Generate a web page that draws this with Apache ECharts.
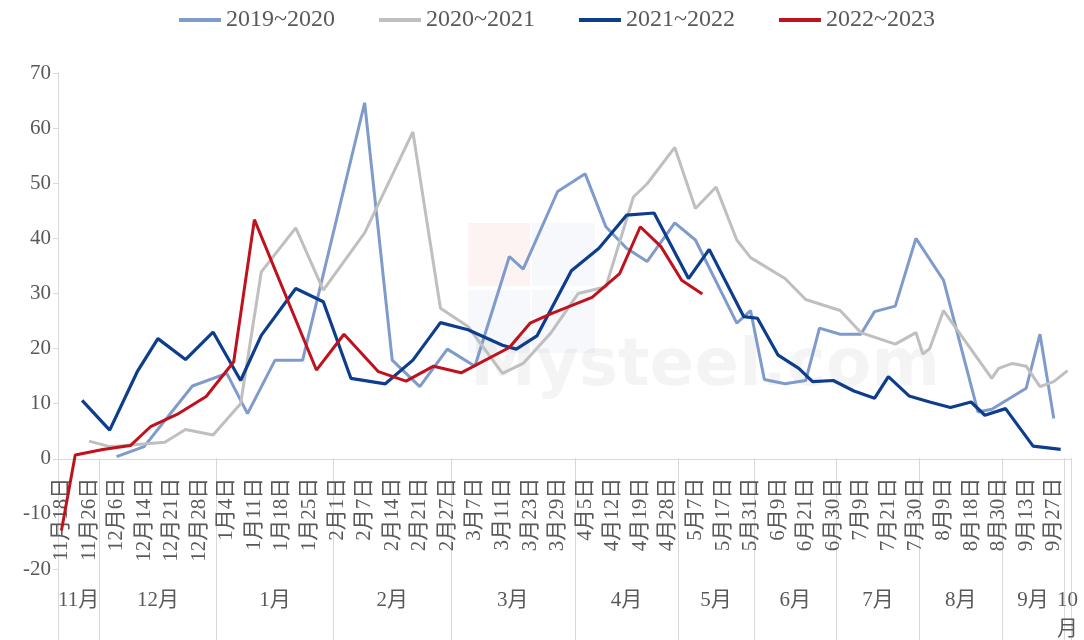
<!DOCTYPE html>
<html><head><meta charset="utf-8">
<script src="https://cdn.jsdelivr.net/npm/echarts@6/dist/echarts.min.js"></script>
<style>html,body{margin:0;padding:0;background:#fff}#c{width:1084px;height:640px}</style>
</head><body><div id="c"></div>
<script>
// ---- categories (dates; every 4th one is labelled) ----
const dates = [
 '11月18日','11月20日','11月22日','11月24日','11月26日','11月29日',
 '12月1日','12月3日','12月6日','12月8日','12月10日','12月12日','12月14日','12月16日','12月17日','12月19日','12月21日','12月23日','12月24日','12月26日','12月28日','12月30日','12月31日',
 '1月2日','1月4日','1月5日','1月7日','1月9日','1月11日','1月13日','1月14日','1月16日','1月18日','1月20日','1月21日','1月23日','1月25日','1月27日','1月28日','1月30日',
 '2月1日','2月3日','2月4日','2月5日','2月7日','2月9日','2月10日','2月12日','2月14日','2月16日','2月17日','2月19日','2月21日','2月23日','2月24日','2月25日','2月27日',
 '3月1日','3月3日','3月4日','3月7日','3月8日','3月9日','3月10日','3月11日','3月14日','3月17日','3月18日','3月23日','3月24日','3月25日','3月26日','3月29日','3月30日','3月31日',
 '4月1日','4月5日','4月6日','4月8日','4月9日','4月12日','4月14日','4月15日','4月16日','4月19日','4月21日','4月22日','4月23日','4月28日','4月29日',
 '5月1日','5月6日','5月7日','5月10日','5月12日','5月13日','5月17日','5月20日','5月21日','5月27日','5月31日',
 '6月2日','6月3日','6月7日','6月9日','6月10日','6月16日','6月17日','6月21日','6月23日','6月24日','6月28日','6月30日',
 '7月1日','7月7日','7月8日','7月9日','7月14日','7月15日','7月16日','7月21日','7月22日','7月23日','7月28日','7月30日',
 '8月4日','8月5日','8月6日','8月9日','8月11日','8月12日','8月13日','8月18日','8月19日','8月20日','8月25日','8月30日',
 '9月1日','9月2日','9月8日','9月13日','9月15日','9月16日','9月22日','9月27日','9月29日',
 '10月9日'
];
// ---- month groups (second level of the category axis) ----
const months = ['11月','12月','1月','2月','3月','4月','5月','6月','7月','8月','9月','10月'];
const monthCounts = [6,17,17,17,18,15,11,12,12,12,9,1];

// ---- series ----
const seriesNames = ['2019~2020','2020~2021','2021~2022','2022~2023'];

const d2019 = ['12月6日','12月14日','12月26日','1月4日','1月9日','1月16日','1月23日','2月7日','2月14日','2月21日','2月27日','3月7日','3月14日','3月18日','3月29日','4月5日','4月9日','4月15日','4月21日','4月29日','5月7日','5月21日','5月31日','6月3日','6月10日','6月21日','6月24日','7月1日','7月9日','7月15日','7月22日','7月30日','8月9日','8月19日','8月25日','9月13日','9月16日','9月27日'];
const v2019 = [0.4,2.2,13.2,15.5,8.2,17.9,17.9,64.6,17.9,13.1,19.9,16.8,36.7,34.4,48.5,51.7,42.1,38.2,35.8,42.8,39.7,24.6,26.9,14.4,13.6,14.2,23.7,22.6,22.6,26.7,27.7,40.0,32.4,8.5,9.0,12.8,22.6,7.3];

const d2020 = ['11月26日','12月3日','12月19日','12月24日','12月31日','1月7日','1月13日','1月21日','1月28日','2月7日','2月19日','2月25日','3月4日','3月11日','3月18日','3月26日','4月1日','4月9日','4月16日','4月21日','4月29日','5月7日','5月13日','5月21日','5月31日','6月10日','6月21日','7月1日','7月9日','7月22日','7月30日','8月4日','8月5日','8月9日','8月25日','8月30日','9月2日','9月13日','9月16日','9月27日','10月9日'];
const v2020 = [3.2,2.2,3.0,5.3,4.3,10.0,33.9,41.9,30.6,41.0,59.3,27.3,24.0,15.5,17.3,22.8,30.0,31.2,47.5,49.9,56.5,45.4,49.3,39.7,36.5,32.7,28.9,26.9,22.9,20.8,22.9,19.0,20.0,26.9,14.6,16.4,17.3,16.8,13.1,14.0,16.0];

const d2021 = ['11月24日','12月3日','12月12日','12月17日','12月24日','12月31日','1月7日','1月13日','1月21日','1月28日','2月4日','2月12日','2月19日','2月25日','3月4日','3月11日','3月17日','3月24日','3月31日','4月8日','4月15日','4月22日','5月6日','5月12日','5月27日','6月2日','6月9日','6月17日','6月23日','6月30日','7月8日','7月15日','7月21日','7月28日','8月5日','8月11日','8月18日','8月20日','9月1日','9月15日','9月29日'];
const v2021 = [10.6,5.2,15.8,21.8,18.0,23.0,14.2,22.4,30.9,28.5,14.6,13.6,17.9,24.7,23.4,20.6,19.9,22.3,34.1,38.2,44.2,44.6,32.7,38.0,25.8,25.5,18.8,16.4,14.0,14.2,12.3,11.0,14.9,11.4,10.3,9.3,10.3,7.9,9.1,2.3,1.7];

const d2022 = ['11月18日','11月22日','12月1日','12月10日','12月16日','12月23日','12月30日','1月5日','1月11日','1月27日','2月3日','2月10日','2月17日','2月24日','3月3日','3月14日','3月23日','3月26日','4月6日','4月14日','4月19日','4月23日','5月1日','5月10日'];
const v2022 = [-13,0.7,1.7,2.4,5.9,8.2,11.3,17.6,43.4,16.1,22.6,15.8,14.1,16.8,15.6,20.2,24.6,26.3,29.3,33.6,42.1,38.5,32.4,29.9];

const yTicks = {min:-20, max:70, interval:10};

// ---- build ----
const colors = ['#7f9bcb','#bfbfbf','#0d3d8c','#c0121d'];
const serif = "'Liberation Serif','Noto Sans CJK SC',serif";
const pairs = (d, v) => d.map((x, i) => [x, v[i]]);
const bounds = [0];
monthCounts.forEach(c => bounds.push(bounds[bounds.length - 1] + c));
const centers = monthCounts.map((c, i) => bounds[i] + c / 2);
const centerName = {};
centers.forEach((c, i) => { centerName[c.toFixed(2)] = monthCounts[i] < 2 ? months[i].replace('月', '\n月') : months[i]; });

const gridTop = 73, gridBottom = 71, H = 640;
const plotH = H - gridTop - gridBottom;
// distance from grid bottom up to the zero line (date axis sits on y = 0)
const zeroOffset = -plotH * (0 - yTicks.min) / (yTicks.max - yTicks.min);

const chart = echarts.init(document.getElementById('c'), null, {renderer: 'canvas'});
chart.setOption({
  animation: false,
  backgroundColor: '#fff',
  color: colors,
  legend: {
    top: 3, left: 174,
    icon: 'rect',
    itemWidth: 42, itemHeight: 4, itemGap: 44,
    textStyle: {fontFamily: serif, fontSize: 24, color: '#595959'},
    data: seriesNames
  },
  graphic: {elements: [
    {type: 'rect', z: 0, shape: {x: 468, y: 223, width: 62, height: 63}, style: {fill: 'rgba(225,80,80,0.07)'}},
    {type: 'rect', z: 0, shape: {x: 532, y: 223, width: 63, height: 63}, style: {fill: 'rgba(90,110,190,0.05)'}},
    {type: 'rect', z: 0, shape: {x: 468, y: 290, width: 62, height: 63}, style: {fill: 'rgba(90,110,190,0.05)'}},
    {type: 'rect', z: 0, shape: {x: 532, y: 290, width: 63, height: 63}, style: {fill: 'rgba(90,110,190,0.05)'}},
    {type: 'text', z: 0, left: 470, top: 335, style: {text: 'Mysteel.com', font: 'bold 66px "DejaVu Sans", sans-serif', fill: 'rgba(0,0,0,0.045)'}}
  ]},
  grid: {left: 58, right: 13, top: gridTop, bottom: gridBottom, containLabel: false, outerBoundsMode: 'none'},
  xAxis: [
    {
      type: 'category', data: dates, boundaryGap: true, position: 'bottom', offset: zeroOffset,
      axisLine: {onZero: false, lineStyle: {color: '#d9d9d9', width: 1}},
      axisTick: {show: false},
      axisLabel: {interval: 3, rotate: 90, margin: 19, fontSize: 21, color: '#595959', fontFamily: serif, hideOverlap: false},
      splitLine: {show: false}
    },
    {
      type: 'value', min: 0, max: bounds[bounds.length - 1], position: 'bottom', offset: gridBottom,
      axisLine: {show: false, onZero: false},
      axisTick: {show: true, inside: true, length: 182, customValues: bounds, lineStyle: {color: '#d9d9d9', width: 1}},
      axisLabel: {show: true, inside: true, margin: 54, verticalAlign: 'top', customValues: centers,
        fontSize: 21, lineHeight: 29, color: '#595959', fontFamily: serif,
        formatter: v => centerName[Number(v).toFixed(2)] || ''},
      splitLine: {show: false}
    }
  ],
  yAxis: {
    type: 'value', min: yTicks.min, max: yTicks.max, interval: yTicks.interval,
    axisLine: {show: true, lineStyle: {color: '#d9d9d9', width: 1}},
    axisTick: {show: true, length: 5, lineStyle: {color: '#d9d9d9'}},
    axisLabel: {fontSize: 21, color: '#595959', fontFamily: serif, margin: 7},
    splitLine: {show: false}
  },
  series: [
    {name: seriesNames[0], type: 'line', data: pairs(d2019, v2019), symbol: 'none', lineStyle: {width: 3}, z: 2},
    {name: seriesNames[1], type: 'line', data: pairs(d2020, v2020), symbol: 'none', lineStyle: {width: 3}, z: 3},
    {name: seriesNames[2], type: 'line', data: pairs(d2021, v2021), symbol: 'none', lineStyle: {width: 3.2}, z: 4},
    {name: seriesNames[3], type: 'line', data: pairs(d2022, v2022), symbol: 'none', lineStyle: {width: 3}, z: 5}
  ]
});
</script></body></html>
